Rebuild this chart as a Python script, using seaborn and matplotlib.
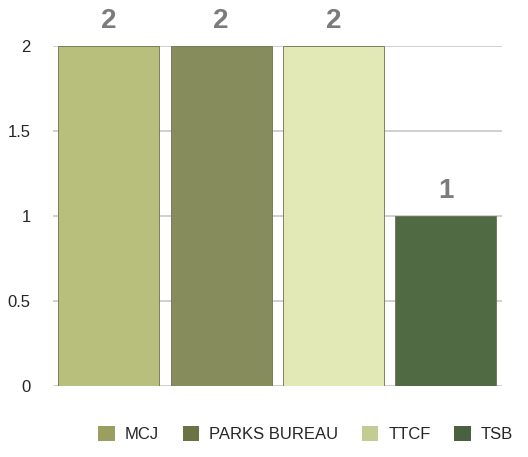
import pandas as pd
import seaborn as sns
import matplotlib.pyplot as plt
from matplotlib.patches import Patch

# data
categories = ["MCJ", "PARKS BUREAU", "TTCF", "TSB"]
values = [2, 2, 2, 1]
bar_colors = ["#b8bf7c", "#878c5c", "#e2e9b6", "#506a43"]
legend_colors = ["#9a9f5f", "#6b7244", "#c1cd93", "#4a6140"]
y_ticks = [0, 0.5, 1, 1.5, 2]
y_labels = ["0", "0.5", "1", "1.5", "2"]

df = pd.DataFrame({"category": categories, "value": values})

sns.set_style("white")
plt.rcParams["font.family"] = ["Liberation Sans", "DejaVu Sans"]
fig = plt.figure(figsize=(5.28, 4.57), dpi=100)
ax = fig.add_axes([0.10, 0.155, 0.85, 0.745])

sns.barplot(data=df, x="category", y="value", hue="category",
            palette=bar_colors, saturation=1, legend=False, width=0.9,
            ax=ax, edgecolor="#6d7150", linewidth=0.6, zorder=3)

for i, v in enumerate(values):
    ax.text(i, v + 0.07, str(v), ha="center", va="bottom",
            fontsize=20, fontweight="bold", color="#7b7b7b")

ax.set_ylim(0, 2)
ax.set_yticks(y_ticks)
ax.set_yticklabels(y_labels, fontsize=12)
ax.yaxis.grid(True, color="#c8c8c8", linewidth=1.2, zorder=0)
ax.set_axisbelow(True)
ax.set_xticks([])
ax.set_xlabel("")
ax.set_ylabel("")
ax.tick_params(axis="y", length=0, pad=16)
for s in ax.spines.values():
    s.set_visible(False)

handles = [Patch(facecolor=c, edgecolor="none", label=l)
           for c, l in zip(legend_colors, categories)]
fig.legend(handles=handles, loc="lower right", bbox_to_anchor=(1.0, 0.0),
           ncol=4, frameon=False, fontsize=12, handlelength=1.0,
           handleheight=1.0, handletextpad=0.6, columnspacing=1.4)

plt.savefig("out.png", dpi=100)
